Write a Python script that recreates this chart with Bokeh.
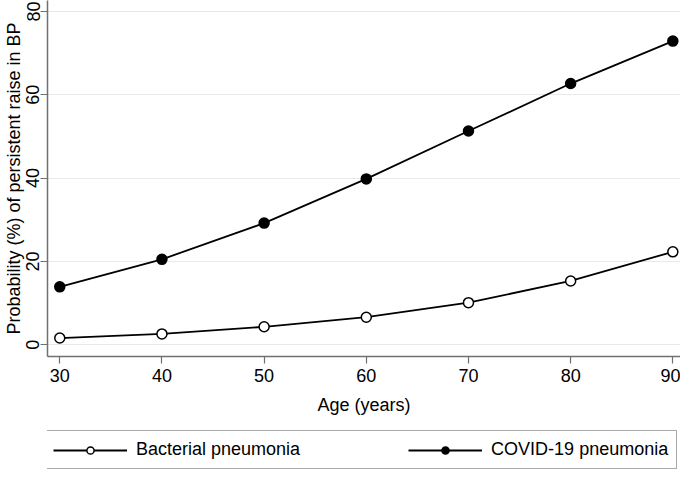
from bokeh.plotting import figure
from bokeh.models import Legend, LegendItem, Range1d, FixedTicker
from bokeh.layouts import column
from bokeh.embed import file_html
from bokeh.resources import INLINE

# Data
age = [30, 40, 50, 60, 70, 80, 90]
bacterial = [1.6, 2.6, 4.3, 6.6, 10.1, 15.3, 22.3]
covid = [13.9, 20.5, 29.2, 39.8, 51.3, 62.7, 72.9]
x_ticks = [30, 40, 50, 60, 70, 80, 90]
y_ticks = [0, 20, 40, 60, 80]
x_title = "Age (years)"
y_title = "Probability (%) of persistent raise in BP"
labels = ["Bacterial pneumonia", "COVID-19 pneumonia"]

FONT = "Liberation Sans"

p = figure(width=680, height=430, output_backend="svg", toolbar_location=None,
           x_range=Range1d(28.8, 90.75), y_range=Range1d(-2.83, 82.64),
           min_border_left=46, min_border_right=0, min_border_top=0,
           min_border_bottom=74, background_fill_color="white",
           border_fill_color="white")
p.outline_line_color = None

# grid
p.xgrid.grid_line_color = None
p.ygrid.grid_line_color = "#e9e9e9"
p.ygrid.grid_line_width = 1
p.ygrid.ticker = FixedTicker(ticks=y_ticks)

for ax in (p.xaxis[0], p.yaxis[0]):
    ax.axis_line_color = "#707070"
    ax.axis_line_width = 1.5
    ax.major_tick_line_color = "#707070"
    ax.major_tick_line_width = 1.2
    ax.major_tick_out = 7
    ax.major_tick_in = 0
    ax.minor_tick_line_color = None
    ax.major_label_text_font = FONT
    ax.major_label_text_font_size = "18px"
    ax.major_label_text_color = "black"
    ax.axis_label_text_font = FONT
    ax.axis_label_text_font_size = "18px"
    ax.axis_label_text_font_style = "normal"
    ax.axis_label_text_color = "black"

p.xaxis.ticker = FixedTicker(ticks=x_ticks)
p.yaxis.ticker = FixedTicker(ticks=y_ticks)
p.xaxis.axis_label = x_title
p.yaxis.axis_label = y_title
p.xaxis.major_label_standoff = 5
p.xaxis.axis_label_standoff = 10
p.yaxis.major_label_standoff = 1
p.yaxis.axis_label_standoff = 0
p.yaxis.major_label_orientation = "vertical"

# series
p.line(age, bacterial, line_color="black", line_width=1.8)
p.scatter(age, bacterial, size=10, marker="circle", fill_color="white",
          line_color="black", line_width=1.5)
p.line(age, covid, line_color="black", line_width=1.8)
p.scatter(age, covid, size=10, marker="circle", fill_color="black",
          line_color="black", line_width=1.5)

# legend strip below the plot (its renderers lie outside its own view)
leg = figure(width=680, height=40, output_backend="svg", toolbar_location=None,
             x_range=Range1d(0, 1), y_range=Range1d(0, 1),
             x_axis_location=None, y_axis_location=None,
             min_border_left=0, min_border_right=0, min_border_top=0,
             min_border_bottom=0, background_fill_color="white",
             border_fill_color="white")
leg.outline_line_color = None
leg.grid.visible = False
gl1 = leg.line(age, bacterial, line_color="black", line_width=1.8)
gs1 = leg.scatter(age, bacterial, marker="circle", fill_color="white",
                  line_color="black", line_width=1.5)
gl2 = leg.line(age, covid, line_color="black", line_width=1.8)
gs2 = leg.scatter(age, covid, marker="circle", fill_color="black",
                  line_color="black", line_width=1.5)

# the column aligns this strip's frame with the main plot's frame
legend = Legend(items=[LegendItem(label=labels[0], renderers=[gl1, gs1]),
                       LegendItem(label=labels[1], renderers=[gl2, gs2])],
                orientation="horizontal", location=(-3, 1))
legend.label_text_font = FONT
legend.label_text_font_size = "18px"
legend.label_text_color = "black"
legend.glyph_width = 74
legend.glyph_height = 18
legend.label_height = 18
legend.label_standoff = 9
legend.padding = 8
legend.spacing = 108
legend.margin = 0
legend.border_line_color = "#555555"
legend.border_line_width = 1.5
legend.background_fill_color = "white"
leg.add_layout(legend)

layout = column(p, leg, spacing=0)
open("out.html", "w").write(file_html(layout, INLINE))
